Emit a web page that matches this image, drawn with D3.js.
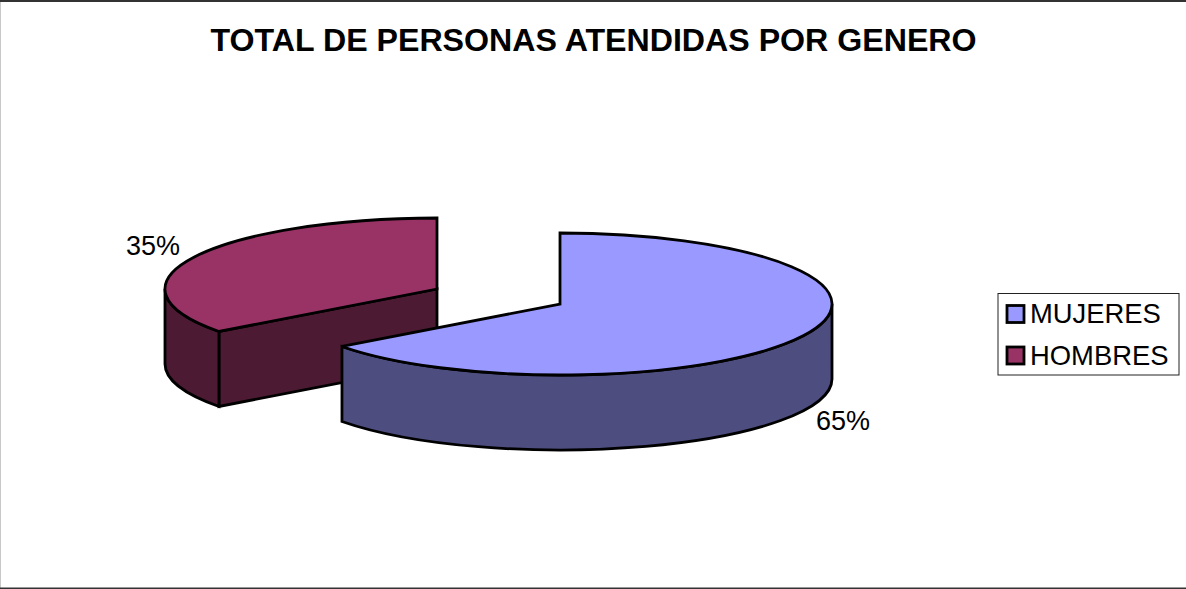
<!DOCTYPE html>
<html>
<head>
<meta charset="utf-8">
<script src="https://d3js.org/d3.v7.min.js"></script>
<style>
html,body{margin:0;padding:0;background:#fff;overflow:hidden}
svg{display:block}
text{font-family:"Liberation Sans",Arial,sans-serif;fill:#000}
</style>
</head>
<body>
<svg id="chart" width="1186" height="589"></svg>
<script>
const categories = ["MUJERES", "HOMBRES"];
const values = [64.8, 35.2];
const percentLabels = ["65%", "35%"];
const topColors = ["#9999FF", "#993366"];
const wallColors = ["#4D4D80", "#4D1A33"];
const titleText = "TOTAL DE PERSONAS ATENDIDAS POR GENERO";

const svg = d3.select("#chart");
const rx = 272, ry = 71, depth = 75;
const centers = [{x: 560, y: 304}, {x: 437, y: 289}];
const labelPos = [{x: 843, y: 430}, {x: 153, y: 255}];

// frame
svg.append("rect").attr("x", 0).attr("y", 0).attr("width", 1).attr("height", 589).attr("fill", "#c8c8c8");
svg.append("rect").attr("x", 0).attr("y", 0).attr("width", 1186).attr("height", 2).attr("fill", "#333");
svg.append("rect").attr("x", 0).attr("y", 587.5).attr("width", 1186).attr("height", 1.5).attr("fill", "#333");

svg.append("text").attr("x", 593.5).attr("y", 51).attr("text-anchor", "middle")
  .attr("font-size", 32.15).attr("font-weight", "bold").text(titleText);

const arcs = d3.pie().sort(null)(values);
const pt = (c, a, dy = 0) => [c.x + rx * Math.sin(a), c.y - ry * Math.cos(a) + dy];
const fmt = p => p[0].toFixed(2) + "," + p[1].toFixed(2);

function ellArc(c, a0, a1, dy) {
  const large = Math.abs(a1 - a0) > Math.PI ? 1 : 0;
  const sweep = a1 > a0 ? 1 : 0;
  return `A${rx},${ry} 0 ${large} ${sweep} ${fmt(pt(c, a1, dy))}`;
}

const styled = (sel, fill) => sel.attr("fill", fill).attr("stroke", "#000")
  .attr("stroke-width", 2.8).attr("stroke-linejoin", "miter").attr("stroke-miterlimit", 3);

// Draw back slice first so that the nearer exploded slice overlaps it
[1, 0].forEach(i => {
  const c = centers[i], d = arcs[i];
  const a0 = d.startAngle, a1 = d.endAngle;
  const g = svg.append("g").attr("class", "slice-" + categories[i]);

  if (i === 1) {
    const left = 1.5 * Math.PI;
    styled(g.append("path").attr("d",
      `M${fmt([c.x, c.y])}L${fmt(pt(c, a0))}L${fmt(pt(c, a0, depth))}L${fmt([c.x, c.y + depth])}Z`), wallColors[i]);
    styled(g.append("path").attr("d",
      `M${fmt(pt(c, a0))}${ellArc(c, a0, left, 0)}L${fmt(pt(c, left, depth))}${ellArc(c, left, a0, depth)}Z`), wallColors[i]);
  } else {
    const right = Math.PI / 2;
    styled(g.append("path").attr("d",
      `M${fmt(pt(c, right))}${ellArc(c, right, a1, 0)}L${fmt(pt(c, a1, depth))}${ellArc(c, a1, right, depth)}Z`), wallColors[i]);
  }
  styled(g.append("path").attr("d",
    `M${fmt([c.x, c.y])}L${fmt(pt(c, a0))}${ellArc(c, a0, a1, 0)}Z`), topColors[i]);

  svg.append("text").attr("x", labelPos[i].x).attr("y", labelPos[i].y).attr("text-anchor", "middle")
    .attr("font-size", 27).text(percentLabels[i]);
});

// legend
svg.append("rect").attr("x", 998).attr("y", 293.5).attr("width", 181).attr("height", 81.5)
  .attr("fill", "#fff").attr("stroke", "#222").attr("stroke-width", 1);
const rowY = d3.scalePoint().domain(categories).range([314, 355.5]);
categories.forEach((name, i) => {
  const y = rowY(name);
  svg.append("rect").attr("x", 1007).attr("y", y - 8.5).attr("width", 17).attr("height", 17)
    .attr("fill", topColors[i]).attr("stroke", "#000").attr("stroke-width", 2.8);
  svg.append("text").attr("x", 1030).attr("y", y + 9).attr("font-size", 27.4).text(name);
});
</script>
</body>
</html>
